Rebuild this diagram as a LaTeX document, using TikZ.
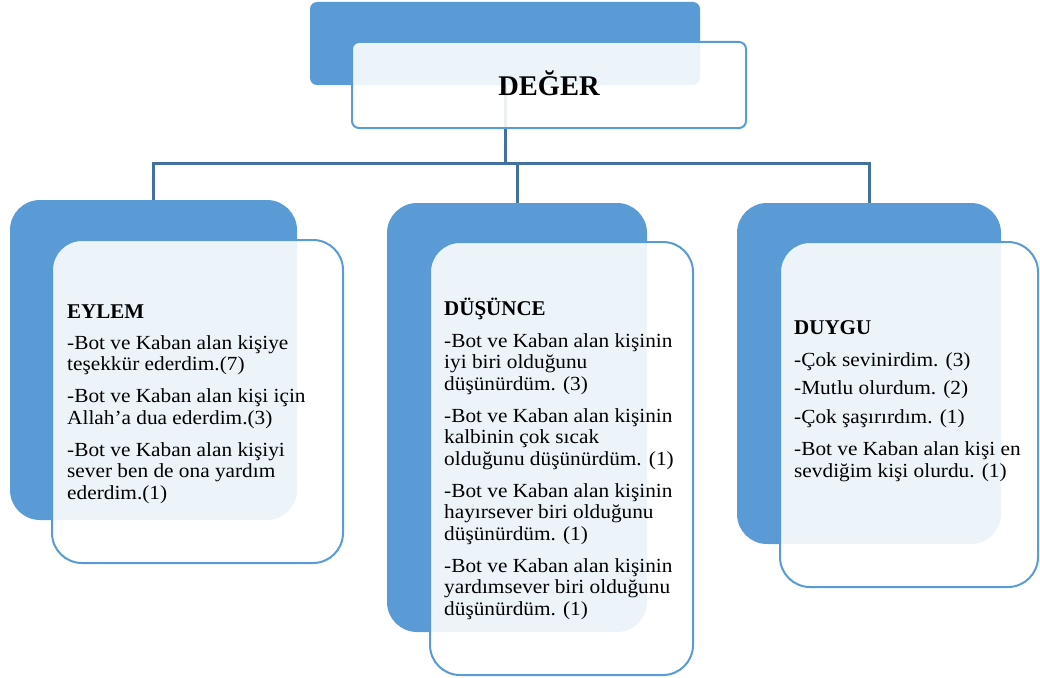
\documentclass[tikz,border=0pt]{standalone}
\usepackage{fontspec}
\setmainfont{Liberation Serif}
\newfontfamily\bodyfont[FakeStretch=1.065]{Liberation Serif}
\newfontfamily\headfont{Liberation Serif}
\definecolor{accent}{HTML}{5B9BD5}
\definecolor{linkblue}{HTML}{41719C}
\tikzset{
  backbox/.style={rectangle, fill=accent, inner sep=0pt},
  frontbox/.style={rectangle, draw=accent, line width=2pt, fill=white, fill opacity=0.89, text opacity=1, inner sep=0pt},
  link/.style={draw=linkblue, line width=3pt},
  textblock/.style={anchor=base west, inner sep=0pt, align=left},
}
\newcommand{\bodysize}{\bodyfont\fontsize{20}{21.5}\selectfont}
\newcommand{\heading}[1]{{\headfont\bfseries\fontsize{21}{21.5}\selectfont #1}}
\begin{document}
\begin{tikzpicture}[x=1pt, y=-1pt]
\useasboundingbox (0,0) rectangle (1040,677);

% back (solid blue) boxes
\node[backbox, rounded corners=7pt, minimum width=390pt, minimum height=83pt] (topback) at (505,43.5) {};
\node[backbox, rounded corners=30pt, minimum width=287pt, minimum height=320pt] (eylemback) at (153.5,360) {};
\node[backbox, rounded corners=30pt, minimum width=260pt, minimum height=429pt] (dusback) at (517,417.5) {};
\node[backbox, rounded corners=30pt, minimum width=264pt, minimum height=341pt] (duyguback) at (869,373.5) {};

% connectors
\coordinate (bus) at (505,163);
\draw[link] (topback.south) -- (bus);
\draw[link] (bus) -| (eylemback.north);
\draw[link] (bus) -| (dusback.north);
\draw[link] (bus) -| (duyguback.north);

% front (translucent) boxes
\node[frontbox, rounded corners=7pt, minimum width=394pt, minimum height=86pt] (topfront) at (549,85) {};
\node[frontbox, rounded corners=30pt, minimum width=291pt, minimum height=323pt] (eylemfront) at (197.5,401.5) {};
\node[frontbox, rounded corners=30pt, minimum width=263pt, minimum height=433pt] (dusfront) at (561.5,458.5) {};
\node[frontbox, rounded corners=30pt, minimum width=258pt, minimum height=345pt] (duygufront) at (909,414.5) {};

% texts
\node[anchor=base, inner sep=0pt] (title) at (549,95)
  {\headfont\bfseries\fontsize{28.5}{30}\selectfont DEĞER};

\node[textblock] (eylemtext) at (67,318) {\parbox[t]{280pt}{\raggedright\bodysize
  \heading{EYLEM}\\[9.5pt]
  -Bot ve Kaban alan kişiye\\
  teşekkür ederdim.(7)\\[10.5pt]
  -Bot ve Kaban alan kişi için\\
  Allah’a dua ederdim.(3)\\[10.5pt]
  -Bot ve Kaban alan kişiyi\\
  sever ben de ona yardım\\
  ederdim.(1)}};

\node[textblock] (dustext) at (444,315) {\parbox[t]{260pt}{\raggedright\bodysize
  \heading{DÜŞÜNCE}\\[10.5pt]
  -Bot ve Kaban alan kişinin\\
  iyi biri olduğunu\\
  düşünürdüm. (3)\\[10.5pt]
  -Bot ve Kaban alan kişinin\\
  kalbinin çok sıcak\\
  olduğunu düşünürdüm. (1)\\[10.5pt]
  -Bot ve Kaban alan kişinin\\
  hayırsever biri olduğunu\\
  düşünürdüm. (1)\\[10.5pt]
  -Bot ve Kaban alan kişinin\\
  yardımsever biri olduğunu\\
  düşünürdüm. (1)}};

\node[textblock] (duygutext) at (794,334) {\parbox[t]{250pt}{\raggedright\bodysize
  \heading{DUYGU}\\[10.5pt]
  -Çok sevinirdim. (3)\\[6.5pt]
  -Mutlu olurdum. (2)\\[7.5pt]
  -Çok şaşırırdım. (1)\\[11pt]
  -Bot ve Kaban alan kişi en\\
  sevdiğim kişi olurdu. (1)}};
\end{tikzpicture}
\end{document}
